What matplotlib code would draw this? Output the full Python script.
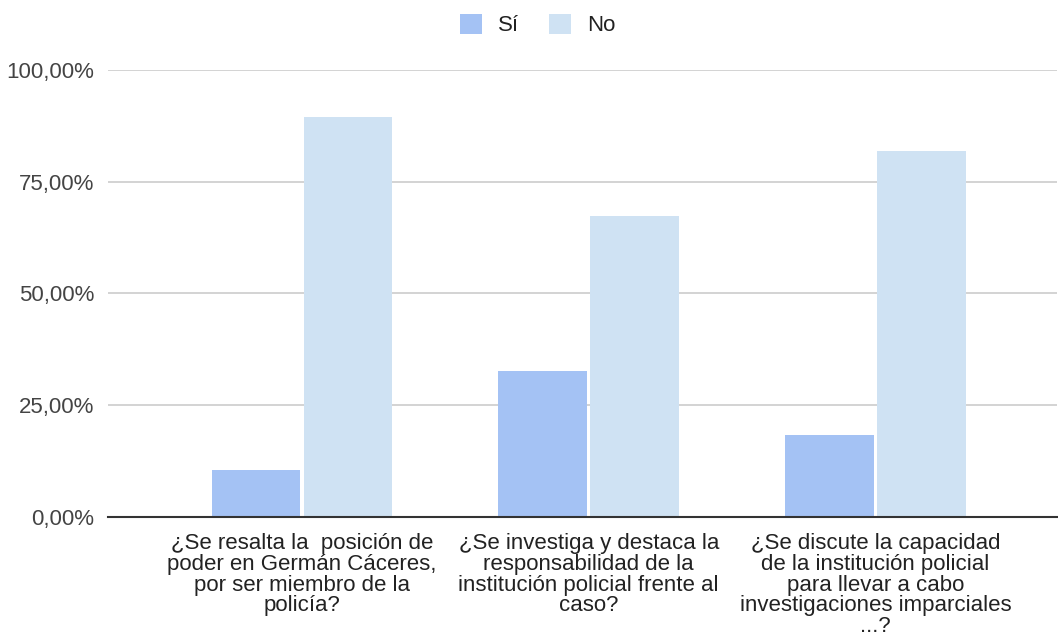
import numpy as np
import matplotlib.pyplot as plt
from matplotlib.ticker import FuncFormatter

plt.rcParams['font.family'] = ['Liberation Sans', 'DejaVu Sans']

categories = [
    "¿Se resalta la  posición de\npoder en Germán Cáceres,\npor ser miembro de la\npolicía?",
    "¿Se investiga y destaca la\nresponsabilidad de la\ninstitución policial frente al\ncaso?",
    "¿Se discute la capacidad\nde la institución policial\npara llevar a cabo\ninvestigaciones imparciales\n...?",
]
si_vals = [10.5, 32.6, 18.2]
no_vals = [89.5, 67.2, 81.8]
yticks = [0, 25, 50, 75, 100]

fig = plt.figure(figsize=(10.58, 6.36), dpi=100)
ax = fig.add_axes([0.102, 0.1876, 0.897, 0.7024])

x = np.arange(len(categories))
w = 0.309
off = 0.1605
ax.bar(x - off, si_vals, width=w, color='#a4c2f4', label='Sí', zorder=3)
ax.bar(x + off, no_vals, width=w, color='#cfe2f3', label='No', zorder=3)

ax.set_xlim(-0.677, 2.633)
ax.set_ylim(0, 100)
ax.set_yticks(yticks)
ax.yaxis.set_major_formatter(FuncFormatter(lambda v, p: f"{v:.2f}".replace('.', ',') + '%'))
ax.set_xticks(x)
ax.set_xticklabels(categories, fontsize=16, color='#222222', linespacing=0.98)
ax.tick_params(axis='y', labelsize=16, labelcolor='#444444', length=0, pad=10)
ax.tick_params(axis='x', length=0, pad=12)

ax.grid(axis='y', color='#cccccc', linewidth=1.2, zorder=0)
for s in ['top', 'right', 'left']:
    ax.spines[s].set_visible(False)
ax.spines['bottom'].set_color('#333333')
ax.spines['bottom'].set_linewidth(1.5)
ax.spines['bottom'].set_zorder(4)

leg = fig.legend(loc='upper center', bbox_to_anchor=(0.508, 1.01), ncol=2, frameon=False,
                 fontsize=16, handlelength=1.0, handleheight=1.0, columnspacing=1.36,
                 handletextpad=0.7)
for t in leg.get_texts():
    t.set_color('#222222')

plt.savefig("out.png", dpi=100)
